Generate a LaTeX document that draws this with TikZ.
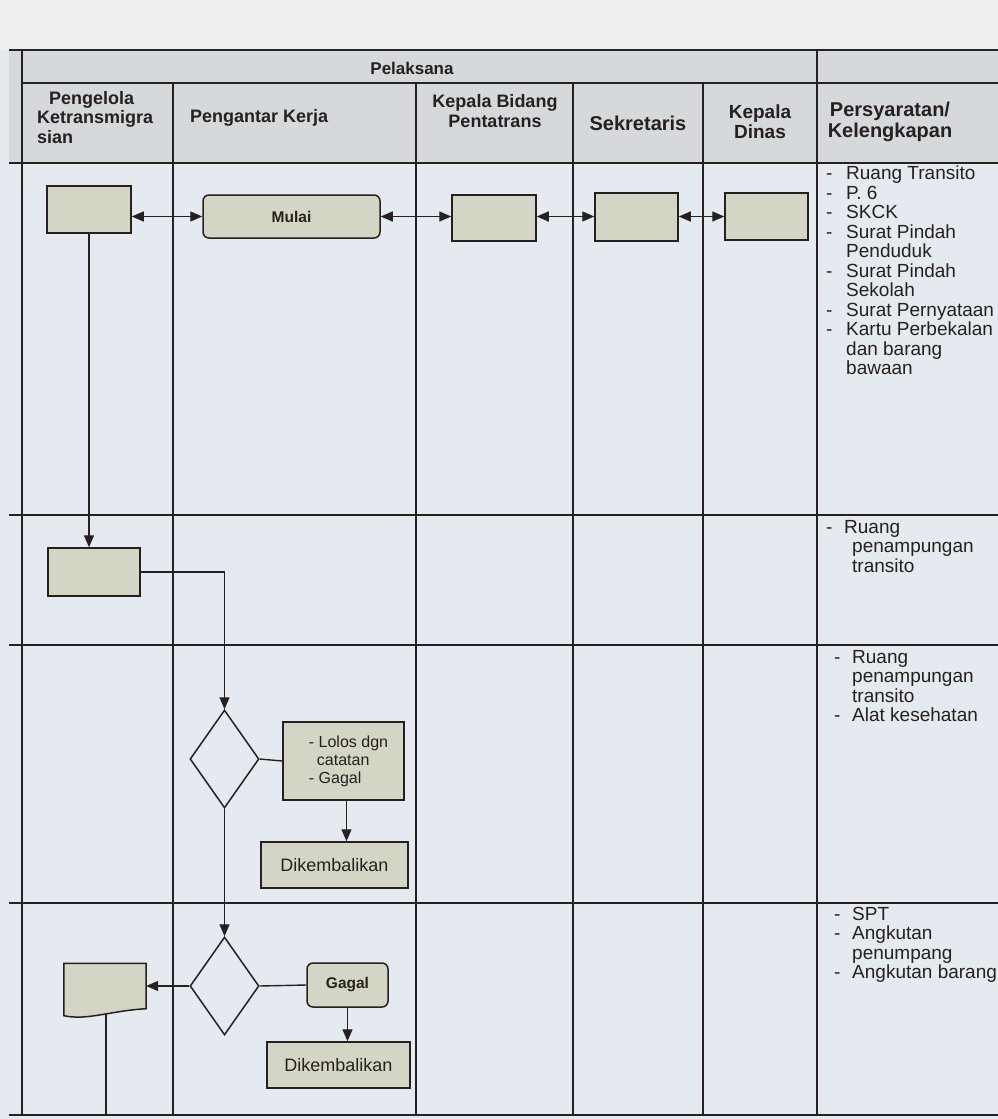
\documentclass[tikz,border=0pt]{standalone}
\usepackage{fontspec}
\setmainfont{Liberation Sans}
\usetikzlibrary{arrows.meta,shapes.geometric,calc}
\definecolor{paper}{RGB}{229,234,240}
\definecolor{topm}{RGB}{236,238,240}
\definecolor{hdr}{RGB}{214,217,220}
\definecolor{boxfill}{RGB}{212,214,197}
\definecolor{ink}{RGB}{38,32,30}
\newcommand{\itm}[1]{\makebox[20pt][l]{-}#1}
\newcommand{\cnt}[1]{\hspace*{20pt}#1}
\begin{document}
\begin{tikzpicture}[x=1pt,y=-1pt,
  grid/.style={draw=ink,line width=1.5pt},
  proc/.style={rectangle,draw=ink,line width=1.5pt,fill=boxfill,inner sep=0pt},
  rproc/.style={proc,rounded corners=6pt},
  dec/.style={diamond,draw=ink,line width=1.5pt,fill=paper,inner sep=0pt},
  tip/.tip={Triangle[length=12pt,width=10pt]},
  flow/.style={draw=ink,line width=1.4pt,-tip},
  biflow/.style={draw=ink,line width=1.4pt,tip-tip},
  conn/.style={draw=ink,line width=1.4pt},
  hd/.style={font=\bfseries\fontsize{18}{19.5}\selectfont,text=ink,inner sep=0pt},
  req/.style={font=\fontsize{19}{19.5}\selectfont,text=ink,align=left,anchor=north west,inner sep=0pt},
  btxt/.style={font=\fontsize{18}{19}\selectfont,text=ink}
]
\useasboundingbox (0,0) rectangle (998,1119);
% backgrounds
\fill[topm] (0,0) rectangle (998,50);
\fill[paper] (0,50) rectangle (998,1119);
\fill[hdr] (9,50) rectangle (998,163);
% grid
\draw[grid] (9,50) -- (998,50);
\draw[grid] (22,83) -- (998,83);
\draw[grid] (9,163) -- (998,163);
\foreach \yy in {515,645,903,1115} {\draw[grid] (9,\yy) -- (998,\yy);}
\draw[grid] (22,50) -- (22,1115);
\draw[grid] (817,50) -- (817,1115);
\foreach \xx in {173,416,573,703} {\draw[grid] (\xx,83) -- (\xx,1115);}
% headers
\node[hd,font=\bfseries\fontsize{17}{19}\selectfont] (hpel) at (412,68) {Pelaksana};
\node[hd,align=left,anchor=north west] (hpk) at (37,91) {\hspace*{12pt}Pengelola\\Ketransmigra\\sian};
\node[hd,anchor=west] (hpkj) at (190,118) {Pengantar Kerja};
\node[hd,align=center] (hkb) at (495,111) {Kepala Bidang\\Pentatrans};
\node[hd,font=\bfseries\fontsize{20}{20}\selectfont] (hsek) at (638,123) {Sekretaris};
\node[hd,align=center,font=\bfseries\fontsize{19}{20}\selectfont] (hkd) at (760,122) {Kepala\\Dinas};
\node[hd,align=center,font=\bfseries\fontsize{20}{21}\selectfont] (hper) at (890,122) {Persyaratan/\\Kelengkapan};
% requirements
\node[req] (r1) at (826,166) {\itm{Ruang Transito}\\\itm{P. 6}\\\itm{SKCK}\\\itm{Surat Pindah}\\\cnt{Penduduk}\\\itm{Surat Pindah}\\\cnt{Sekolah}\\\itm{Surat Pernyataan}\\\itm{Kartu Perbekalan}\\\cnt{dan barang}\\\cnt{bawaan}};
\node[req] (r2) at (826,520) {\makebox[18pt][l]{-}Ruang\\\hspace*{26pt}penampungan\\\hspace*{26pt}transito};
\node[req] (r3) at (834,650) {\makebox[18pt][l]{-}Ruang\\\hspace*{18pt}penampungan\\\hspace*{18pt}transito\\\makebox[18pt][l]{-}Alat kesehatan};
\node[req] (r4) at (834,907) {\makebox[18pt][l]{-}SPT\\\makebox[18pt][l]{-}Angkutan\\\hspace*{18pt}penumpang\\\makebox[18pt][l]{-}Angkutan barang};
% top row boxes
\node[proc,minimum width=84pt,minimum height=47pt] (b1) at (89,209.5) {};
\node[rproc,minimum width=177pt,minimum height=43pt,font=\bfseries\fontsize{15.5}{17}\selectfont,text=ink] (mulai) at (291.5,216.5) {Mulai};
\node[proc,minimum width=84pt,minimum height=46pt] (kb) at (494,218) {};
\node[proc,minimum width=83pt,minimum height=48pt] (sek) at (636.5,217) {};
\node[proc,minimum width=83pt,minimum height=47pt] (kd) at (766.5,216.5) {};
\draw[biflow] (b1.east |- mulai.west) -- (mulai.west);
\draw[biflow] (mulai.east) -- (kb.west |- mulai.east);
\draw[biflow] (kb.east |- mulai.east) -- (sek.west |- mulai.east);
\draw[biflow] (sek.east |- mulai.east) -- (kd.west |- mulai.east);
% second row
\node[proc,minimum width=92pt,minimum height=48pt] (b2) at (94,572) {};
\draw[flow] (b1.south) -- (b1.south |- b2.north);
% third row
\node[dec,minimum width=69pt,minimum height=98pt] (d1) at (224.5,759) {};
\draw[flow] (b2.east) -| (d1.north);
\node[proc,minimum width=121pt,minimum height=78pt,align=left,font=\fontsize{16}{18}\selectfont,text=ink] (lolos) at (343.5,761) {\hspace*{10pt}- Lolos dgn\\\hspace*{18pt}catatan\\\hspace*{10pt}- Gagal};
\draw[conn] (d1.east) -- (lolos.west);
\node[proc,minimum width=147pt,minimum height=46pt,btxt] (dik1) at (334.5,865) {Dikembalikan};
\draw[flow] ([xshift=3pt]lolos.south) -- ([xshift=3pt]lolos.south |- dik1.north);
% fourth row
\node[dec,minimum width=69pt,minimum height=98pt] (d2) at (224.5,986) {};
\draw[flow] (d1.south) -- (d2.north);
\node[rectangle,minimum width=82pt,minimum height=45pt,inner sep=0pt] (doc) at (105,986) {};
\draw[ink,line width=1.5pt,fill=boxfill] (doc.north west) -- (doc.north east) -- (doc.south east)
   .. controls ([xshift=-36pt,yshift=-2pt]doc.south east) and ([xshift=24pt,yshift=-12pt]doc.south west) .. ([yshift=-7pt]doc.south west) -- cycle;
\draw[flow] (d2.west) -- (doc.east);
\coordinate (docend) at (106,1115);
\draw[conn] ([xshift=1pt,yshift=-5pt]doc.south) -- (docend);
\node[rproc,minimum width=81pt,minimum height=44pt,font=\bfseries\fontsize{15.5}{17}\selectfont,text=ink] (gagal) at (347.5,985) {Gagal};
\draw[conn] (d2.east) -- (gagal.west);
\node[proc,minimum width=143pt,minimum height=46pt,btxt] (dik2) at (338.5,1065) {Dikembalikan};
\draw[flow] (gagal.south) -- (gagal.south |- dik2.north);
\end{tikzpicture}
\end{document}
